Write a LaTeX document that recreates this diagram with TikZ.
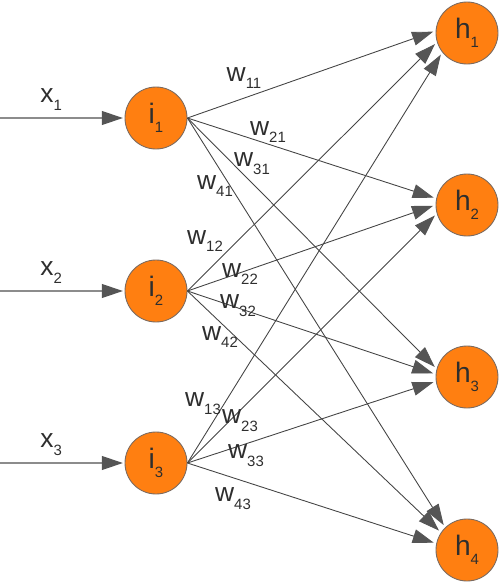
\documentclass[tikz,border=0pt]{standalone}
\usepackage{fontspec}
\setmainfont{Liberation Sans}
\usetikzlibrary{arrows.meta}

\definecolor{neuronorange}{HTML}{FF7F11}
\definecolor{rimgray}{HTML}{7A6A60}
\definecolor{inkgray}{HTML}{2E2E2E}
\definecolor{wiregray}{HTML}{444444}
\definecolor{feedgray}{HTML}{8C8C8C}
\definecolor{tipgray}{HTML}{555555}

\newcommand{\lab}[2]{#1\raisebox{-0.3em}{\fontsize{8.5}{8.5}\selectfont #2}}

\begin{document}
\begin{tikzpicture}[x=0.2mm, y=-0.2mm,
    neuron/.style={circle, draw=rimgray, fill=neuronorange, line width=0.5pt,
        minimum size=12.4mm, inner sep=0pt, text=inkgray,
        font=\fontsize{16}{16}\selectfont},
    wlabel/.style={text=inkgray, inner sep=0pt, font=\fontsize{15}{15}\selectfont},
    edge/.style={draw=wiregray, line width=0.5pt, shorten >=1.5pt,
        -{Triangle[length=4.2mm, width=2.8mm, color=tipgray]}},
    feed/.style={draw=feedgray, line width=0.6pt, shorten >=1pt,
        -{Triangle[length=4.2mm, width=2.8mm, color=tipgray]}}]

        \useasboundingbox (0, 0) rectangle (500, 582);

        \node[neuron] (i1) at (156, 118) {\lab{i}{1}};
        \node[neuron] (i2) at (156, 291) {\lab{i}{2}};
        \node[neuron] (i3) at (156, 463) {\lab{i}{3}};

        \node[neuron] (h1) at (467, 33) {\lab{h}{1}};
        \node[neuron] (h2) at (467, 205) {\lab{h}{2}};
        \node[neuron] (h3) at (467, 377) {\lab{h}{3}};
        \node[neuron] (h4) at (467, 550) {\lab{h}{4}};

        \coordinate (x1) at (0, 118);
        \coordinate (x2) at (0, 291);
        \coordinate (x3) at (0, 463);

        % inputs
        \draw[feed] (x1) -- node[wlabel, pos=0.41, above=4pt] {\lab{x}{1}} (i1);
        \draw[feed] (x2) -- node[wlabel, pos=0.41, above=4pt] {\lab{x}{2}} (i2);
        \draw[feed] (x3) -- node[wlabel, pos=0.41, above=4pt] {\lab{x}{3}} (i3);

        % weights
        \draw[edge] (i1.east) -- (h1.176);
        \draw[edge] (i1.east) -- (h2.168);
        \draw[edge] (i1.east) -- (h3.165);
        \draw[edge] (i1.east) -- (h4.134);
        \draw[edge] (i2.east) -- (h1.197);
        \draw[edge] (i2.east) -- (h2.180);
        \draw[edge] (i2.east) -- (h3.175);
        \draw[edge] (i2.east) -- (h4.146);
        \draw[edge] (i3.east) -- (h1.218);
        \draw[edge] (i3.east) -- (h2.196);
        \draw[edge] (i3.east) -- (h3.188);
        \draw[edge] (i3.east) -- (h4.168);

        \node[wlabel] (w11) at (244, 78) {\lab{w}{11}};
        \node[wlabel] (w21) at (268, 132) {\lab{w}{21}};
        \node[wlabel] (w31) at (252, 164) {\lab{w}{31}};
        \node[wlabel] (w41) at (215, 186) {\lab{w}{41}};
        \node[wlabel] (w12) at (205, 241) {\lab{w}{12}};
        \node[wlabel] (w22) at (240, 274) {\lab{w}{22}};
        \node[wlabel] (w32) at (238, 306) {\lab{w}{32}};
        \node[wlabel] (w42) at (220, 337) {\lab{w}{42}};
        \node[wlabel] (w13) at (203, 404) {\lab{w}{13}};
        \node[wlabel] (w23) at (240, 421) {\lab{w}{23}};
        \node[wlabel] (w33) at (246, 456) {\lab{w}{33}};
        \node[wlabel] (w43) at (233, 499) {\lab{w}{43}};

    \end{tikzpicture}
\end{document}
